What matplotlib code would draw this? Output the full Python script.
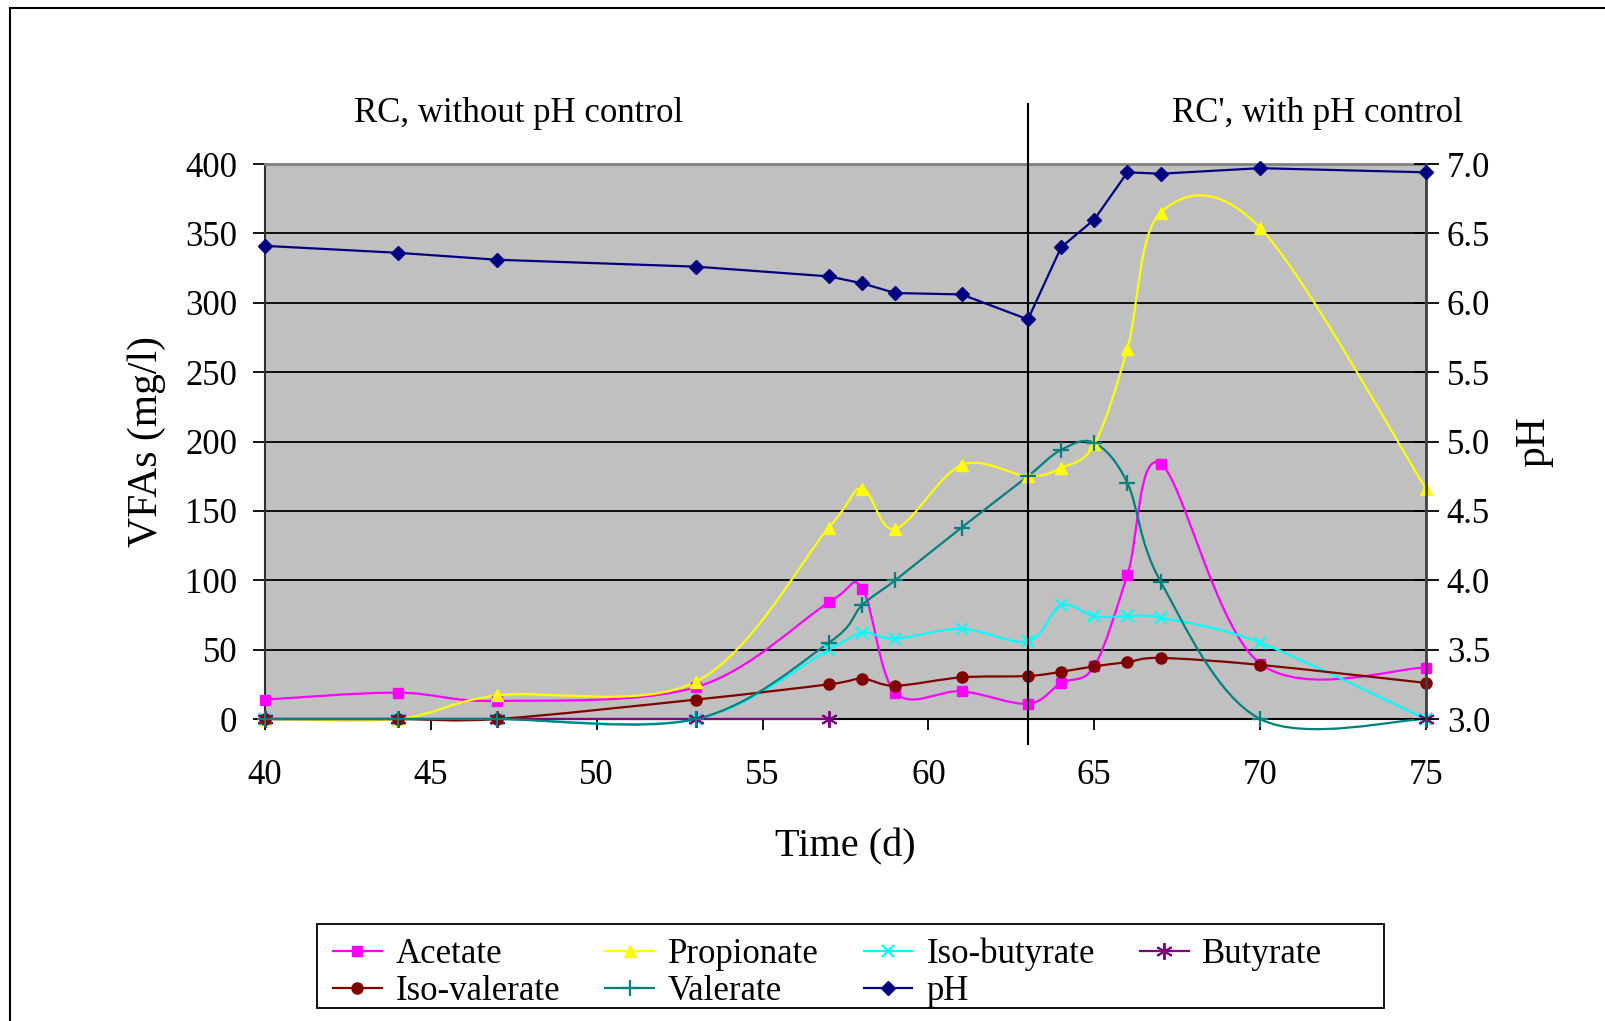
import numpy as np
import matplotlib
matplotlib.use('Agg')
import matplotlib.pyplot as plt
from matplotlib.path import Path
from matplotlib.patches import PathPatch, Rectangle
from matplotlib.lines import Line2D

plt.rcParams['font.family'] = ['Liberation Serif', 'DejaVu Serif']

# 时间 (d)
days = [40, 44, 47, 53, 57, 58, 59, 61, 63, 64, 65, 66, 67, 70, 75]

# VFAs (mg/l)
acetate = [14, 19, 13, 23, 84, 94, 19, 20, 11, 26, 38, 104, 184, 40, 37]
propionate = [0, 0, 17, 27, 138, 166, 137, 183, 175, 181, 198, 267, 365, 354, 166]
iso_butyrate = [0, 0, 0, 0, 50, 62, 58, 65, 56, 82, 74, 74, 73, 55, 0]
butyrate = [0, 0, 0, 0, 0, np.nan, np.nan, np.nan, np.nan, np.nan, np.nan, np.nan, np.nan, np.nan, 0]
iso_valerate = [0, 0, 0, 14, 25, 29, 24, 30, 31, 34, 38, 41, 44, 39, 26]
valerate = [0, 0, 0, 0, 55, 82, 100, 138, 175, 194, 199, 170, 99, 0, 0]

# pH
ph = [6.41, 6.36, 6.31, 6.26, 6.19, 6.14, 6.07, 6.06, 5.88, 6.40, 6.60, 6.94, 6.93, 6.97, 6.94]

W, H = 1605, 1021
FS = 25


def smooth_path(x, y):
    # Excel 式平滑曲线 (Bezier)
    x = np.asarray(x, float)
    y = np.asarray(y, float)
    ok = ~np.isnan(y)
    segs = []
    cur = []
    for xi, yi, k in zip(x, y, ok):
        if k:
            cur.append((xi, yi))
        else:
            if cur:
                segs.append(cur)
            cur = []
    if cur:
        segs.append(cur)
    verts, codes = [], []
    for seg in segs:
        P = np.array(seg)
        n = len(P)
        verts.append(P[0])
        codes.append(Path.MOVETO)
        for i in range(n - 1):
            pp = P[i - 1] if i > 0 else P[i]
            pn = P[i + 2] if i + 2 < n else P[i + 1]
            c1 = P[i] + (P[i + 1] - pp) / 6
            c2 = P[i + 1] - (pn - P[i]) / 6
            verts += [c1, c2, P[i + 1]]
            codes += [Path.CURVE4] * 3
    return Path(verts, codes)


fig = plt.figure(figsize=(W / 100, H / 100), dpi=100)
ax = fig.add_axes([265 / W, 1 - 719 / H, (1426 - 265) / W, (719 - 164) / H])
ax.set_facecolor('#C0C0C0')
ax.set_xlim(40, 75)
ax.set_ylim(0, 400)
ax.set_xticks(range(40, 76, 5))
ax.set_yticks(range(0, 401, 50))
ax.yaxis.grid(True, color='black', lw=1.3)
ax.set_axisbelow(True)
ax.tick_params(axis='y', direction='out', length=9, width=1.3, pad=11, labelsize=FS)
ax.tick_params(axis='x', direction='out', length=8, width=1.3, pad=21, labelsize=FS)
ax.spines['top'].set_color('#808080')
ax.spines['top'].set_linewidth(2)
ax.spines['left'].set_color('#303030')
ax.spines['left'].set_linewidth(1.5)
ax.spines['bottom'].set_linewidth(1.5)
ax.spines['right'].set_visible(False)

star = (6, 2, 0)
series = [
    ('Acetate', acetate, '#FF00FF', 's', 7, 1),
    ('Propionate', propionate, '#FFFF00', '^', 8, 1),
    ('Iso-butyrate', iso_butyrate, '#00FFFF', 'x', 9, 1.6),
    ('Butyrate', butyrate, '#800080', star, 12, 1.4),
    ('Iso-valerate', iso_valerate, '#800000', 'o', 8, 1),
    ('Valerate', valerate, '#008080', '+', 11, 1.6),
]

handles = {}
for name, vals, col, mk, ms, mew in series:
    pth = smooth_path(days, vals)
    ax.add_patch(PathPatch(pth, fill=False, edgecolor=col, lw=1.6, clip_on=False, zorder=3))
    ax.plot(days, vals, linestyle='none', marker=mk, ms=ms, color=col,
            mec=col, mew=mew, clip_on=False, zorder=4)
    handles[name] = Line2D([], [], color=col, lw=1.6, marker=mk, ms=ms, mew=mew, mec=col)

# 分界线 (第63天)
ax.plot([63, 63], [443, -18], color='black', lw=1.5, clip_on=False, zorder=5)

ax.set_xlabel('Time (d)', fontsize=29, labelpad=26)
ax.set_ylabel('VFAs (mg/l)', fontsize=30, labelpad=14)

ax2 = ax.twinx()
ax2.set_ylim(3, 7)
ax2.set_yticks(np.arange(3, 7.01, 0.5))
ax2.set_yticklabels(['%.1f' % v for v in np.arange(3, 7.01, 0.5)])
ax2.tick_params(axis='y', direction='inout', length=18, width=1.3, pad=6, labelsize=FS)
for s in ['top', 'left', 'bottom']:
    ax2.spines[s].set_visible(False)
ax2.spines['right'].set_color('#404040')
ax2.spines['right'].set_linewidth(2)
ax2.plot(days, ph, color='#000080', lw=1.6, marker='D', ms=7, clip_on=False, zorder=6)
ax2.set_ylabel('pH', fontsize=30, rotation=90, labelpad=18)
handles['pH'] = Line2D([], [], color='#000080', lw=1.6, marker='D', ms=7)

fig.text(519 / W, 1 - 113 / H, 'RC, without pH control', fontsize=FS, ha='center', va='center')
fig.text(1317 / W, 1 - 113 / H, "RC', with pH control", fontsize=FS, ha='center', va='center')

order = ['Acetate', 'Iso-valerate', 'Propionate', 'Valerate', 'Iso-butyrate', 'pH', 'Butyrate']
leg = fig.legend([handles[k] for k in order], order, ncol=4, loc='center left',
                 bbox_to_anchor=(333 / W, 1 - 973 / H), frameon=False, fontsize=FS,
                 handlelength=1.4, handletextpad=0.4, labelspacing=0.12,
                 borderpad=0, borderaxespad=0, columnspacing=1.3)
# 图例外框
fig.add_artist(Rectangle((317 / W, 1 - 1008 / H), (1384 - 317) / W, 84 / H,
                         transform=fig.transFigure, fill=False, edgecolor='black', lw=1.3))

# 外框 (上, 左)
fig.add_artist(Line2D([10 / W, 10 / W], [0, 1 - 8 / H], transform=fig.transFigure, color='black', lw=1.5))
fig.add_artist(Line2D([10 / W, 1], [1 - 8 / H, 1 - 8 / H], transform=fig.transFigure, color='black', lw=1.5))

fig.savefig('out.png', dpi=100)
